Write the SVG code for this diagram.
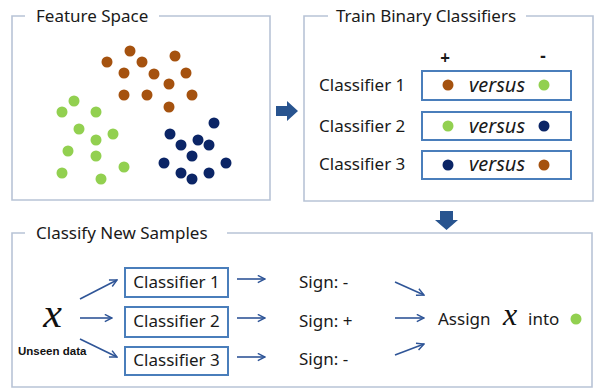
<svg xmlns="http://www.w3.org/2000/svg" width="596" height="390" viewBox="0 0 596 390">
<defs>
<marker id="ah" viewBox="0 0 10 10" refX="9" refY="5" markerWidth="9" markerHeight="9" markerUnits="userSpaceOnUse" orient="auto">
<path d="M1,1 L9,5 L1,9" fill="none" stroke="#2f5597" stroke-width="1.6"/>
</marker>
<circle id="d" r="5.5"/>
</defs>
<style>
.frame{fill:none;stroke:#b8c4d6;stroke-width:1.6}
.t{font-family:"Noto Sans","Open Sans","Liberation Sans",sans-serif;font-size:17px;fill:#1a1a1a}
.box{fill:#fff;stroke:#4a7ebb;stroke-width:2}
.vs{font-family:"Noto Sans","Open Sans","Liberation Sans",sans-serif;font-size:20px;font-style:italic;fill:#1a1a1a}
.mx{font-family:"Liberation Serif","DejaVu Serif",serif;font-style:italic;fill:#111}
.br{fill:#a5520f}.gr{fill:#92d050}.nv{fill:#0b2566}
.con{fill:none;stroke:#2f5597;stroke-width:1.6;marker-end:url(#ah)}
.blk{fill:#28548f}
</style>
<rect width="596" height="390" fill="#fff"/>

<g id="feature-space">
<path class="frame" d="M25,16 H12 V200 H270 V16 H159"/>
<text class="t" x="36" y="22">Feature Space</text>
<g class="br">
<use href="#d" x="130" y="51"/><use href="#d" x="107" y="62"/><use href="#d" x="142" y="62"/><use href="#d" x="175" y="56"/>
<use href="#d" x="124" y="73"/><use href="#d" x="154" y="74"/><use href="#d" x="186" y="73"/><use href="#d" x="169" y="84"/>
<use href="#d" x="124" y="95"/><use href="#d" x="147" y="95"/><use href="#d" x="192" y="95"/><use href="#d" x="169" y="107"/>
</g>
<g class="gr">
<use href="#d" x="74" y="101"/><use href="#d" x="62" y="112"/><use href="#d" x="96" y="112"/><use href="#d" x="79" y="129"/>
<use href="#d" x="113" y="134"/><use href="#d" x="96" y="140"/><use href="#d" x="68" y="151"/><use href="#d" x="96" y="156"/>
<use href="#d" x="124" y="167"/><use href="#d" x="62" y="173"/><use href="#d" x="101" y="179"/>
</g>
<g class="nv">
<use href="#d" x="214" y="123"/><use href="#d" x="170" y="134"/><use href="#d" x="198" y="140"/><use href="#d" x="181" y="145"/>
<use href="#d" x="209" y="145"/><use href="#d" x="192" y="156"/><use href="#d" x="164" y="163"/><use href="#d" x="226" y="163"/>
<use href="#d" x="181" y="173"/><use href="#d" x="209" y="173"/><use href="#d" x="192" y="179"/>
</g>
</g>

<g id="train-binary-classifiers">
<path class="frame" d="M328,16 H304 V201 H593 V16 H526"/>
<text class="t" x="336" y="22">Train Binary Classifiers</text>
<text class="t" x="445" y="64" text-anchor="middle" font-weight="bold">+</text>
<text class="t" x="543" y="62" text-anchor="middle" font-weight="bold">-</text>
<text class="t" x="319" y="91">Classifier 1</text>
<text class="t" x="319" y="132">Classifier 2</text>
<text class="t" x="319" y="170">Classifier 3</text>
<rect class="box" x="422" y="71" width="149" height="29"/>
<rect class="box" x="422" y="112" width="149" height="28"/>
<rect class="box" x="422" y="151" width="149" height="28"/>
<text class="vs" x="497" y="92" text-anchor="middle">versus</text>
<text class="vs" x="497" y="133" text-anchor="middle">versus</text>
<text class="vs" x="497" y="171" text-anchor="middle">versus</text>
<use href="#d" class="br" x="448" y="85"/><use href="#d" class="gr" x="544" y="85"/>
<use href="#d" class="gr" x="448" y="126"/><use href="#d" class="nv" x="544" y="126"/>
<use href="#d" class="nv" x="448" y="165"/><use href="#d" class="br" x="544" y="165"/>
</g>

<g id="classify-new-samples">
<path class="frame" d="M25,233 H12 V387 H592 V233 H227"/>
<text class="t" x="36" y="239">Classify New Samples</text>
<text class="mx" x="52.5" y="327" font-size="42" text-anchor="middle">x</text>
<text x="18" y="355" font-family="Liberation Sans,Arial,sans-serif" font-size="11.5" font-weight="bold" fill="#111">Unseen data</text>
</g>

<g id="clf1"><rect class="box" x="125" y="268" width="103" height="29"/><text class="t" x="176.5" y="288" text-anchor="middle">Classifier 1</text></g>
<g id="clf2"><rect class="box" x="125" y="307" width="103" height="30"/><text class="t" x="176.5" y="327" text-anchor="middle">Classifier 2</text></g>
<g id="clf3"><rect class="box" x="125" y="347" width="103" height="28"/><text class="t" x="176.5" y="366" text-anchor="middle">Classifier 3</text></g>

<g id="sign1"><text class="t" x="299" y="288">Sign: -</text></g>
<g id="sign2"><text class="t" x="299" y="327">Sign: +</text></g>
<g id="sign3"><text class="t" x="299" y="365">Sign: -</text></g>

<g id="assign">
<text class="t" x="438" y="325">Assign</text>
<text class="mx" x="510" y="325" font-size="32" text-anchor="middle">x</text>
<text class="t" x="528" y="325">into</text>
<use href="#d" class="gr" x="576" y="319"/>
</g>

<g id="connectors">
<path class="blk" d="M276,106 H287 V101 L298,111 L287,121 V116 H276 Z"/>
<path class="blk" d="M440,211 H453 V220 H458 L446.5,230 L435,220 H440 Z"/>
<path class="con" d="M80,299 L117,280"/>
<path class="con" d="M80,318 L112,318"/>
<path class="con" d="M80,339 L117,357"/>
<path class="con" d="M237,279 L265,279"/>
<path class="con" d="M237,318 L265,318"/>
<path class="con" d="M237,357 L265,357"/>
<path class="con" d="M395,282 L424,295"/>
<path class="con" d="M395,318 L424,318"/>
<path class="con" d="M395,355 L424,344"/>
</g>
</svg>
